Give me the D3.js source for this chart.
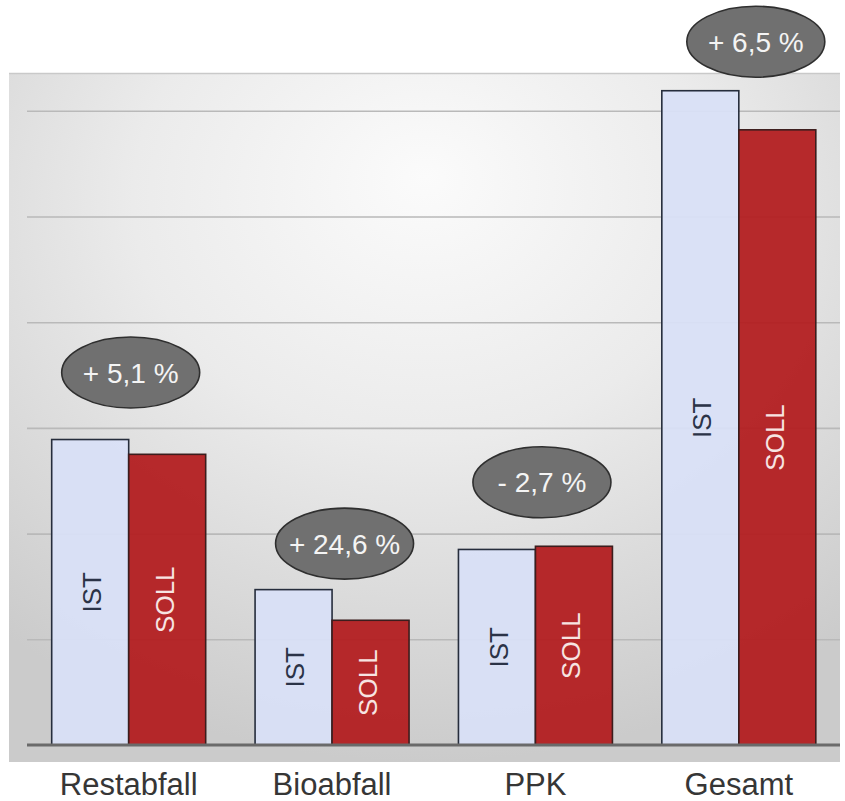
<!DOCTYPE html>
<html>
<head>
<meta charset="utf-8">
<script src="https://cdn.jsdelivr.net/npm/d3@7"></script>
<style>
  html, body { margin: 0; padding: 0; background: #ffffff; }
  svg { display: block; }
  text { font-family: Arial, "Liberation Sans", sans-serif; }
</style>
</head>
<body>
<svg id="chart" width="845" height="801"></svg>
<script>
// ---- data ----
const categories = ["Restabfall", "Bioabfall", "PPK", "Gesamt"];
const seriesNames = ["IST", "SOLL"];
const istValues = [2.89, 1.47, 1.85, 6.19];
const sollValues = [2.75, 1.18, 1.88, 5.82];
const changeLabels = ["+ 5,1 %", "+ 24,6 %", "- 2,7 %", "+ 6,5 %"];
const gridTicks = [1, 2, 3, 4, 5, 6];

// ---- layout ----
const W = 845, H = 801;
const panel = { x0: 9, x1: 840, y0: 73, y1: 762 };
const plot = { left: 27, right: 840.5, top: 110.8, bottom: 745 };

const svg = d3.select("#chart");
const defs = svg.append("defs");
const grad = defs.append("radialGradient")
  .attr("id", "bg").attr("cx", "50%").attr("cy", "22%").attr("r", "78%")
  .attr("fx", "50%").attr("fy", "15%");
grad.append("stop").attr("offset", "0%").attr("stop-color", "#fbfbfb");
grad.append("stop").attr("offset", "45%").attr("stop-color", "#ebebeb");
grad.append("stop").attr("offset", "100%").attr("stop-color", "#cbcbcb");

svg.append("rect")
  .attr("x", panel.x0).attr("y", panel.y0)
  .attr("width", panel.x1 - panel.x0).attr("height", panel.y1 - panel.y0)
  .attr("fill", "url(#bg)");
svg.append("line")
  .attr("x1", panel.x0).attr("x2", panel.x1)
  .attr("y1", panel.y0 + 0.5).attr("y2", panel.y0 + 0.5)
  .attr("stroke", "#c9c9c9").attr("stroke-width", 1.5);

// scales
const x = d3.scaleBand().domain(categories).range([plot.left, plot.right]).padding(0);
const x1 = d3.scaleBand().domain(seriesNames).range([0, x.bandwidth()])
  .paddingInner(0).paddingOuter(0.3208);
const y = d3.scaleLinear().domain([0, 6]).range([plot.bottom, plot.top]);

// gridlines via axis
const grid = svg.append("g")
  .attr("transform", `translate(${plot.left},0)`)
  .call(d3.axisLeft(y).tickValues(gridTicks)
    .tickSize(-(panel.x1 - plot.left)).tickFormat(""));
grid.select(".domain").remove();
grid.selectAll(".tick line").attr("stroke", "#b9b9b9").attr("stroke-width", 1.6);

// bars
const rows = categories.map((c, i) => ({
  cat: c,
  vals: [
    { s: "IST", v: istValues[i] },
    { s: "SOLL", v: sollValues[i] }
  ],
  label: changeLabels[i],
  i
}));

const fills = { IST: "#d9e0f6", SOLL: "#b31d1f" };
const strokes = { IST: "#262d3c", SOLL: "#3c1d1d" };
const txtFill = { IST: "#2b3347", SOLL: "#f7e4e2" };
const txtShift = { IST: 1.5, SOLL: -3 };

const groups = svg.append("g").selectAll("g.grp")
  .data(rows).join("g")
  .attr("class", "grp")
  .attr("transform", d => `translate(${x(d.cat)},0)`);

groups.selectAll("rect")
  .data(d => d.vals).join("rect")
  .attr("x", d => x1(d.s))
  .attr("y", d => y(d.v))
  .attr("width", x1.bandwidth())
  .attr("height", d => y(0) - y(d.v))
  .attr("fill", d => fills[d.s])
  .attr("fill-opacity", 0.94)
  .attr("stroke", d => strokes[d.s])
  .attr("stroke-width", 1.6);

// rotated series labels inside bars
groups.selectAll("text.ser")
  .data(d => d.vals).join("text")
  .attr("class", "ser")
  .attr("transform", d => {
    const cx = x1(d.s) + x1.bandwidth() / 2 + txtShift[d.s];
    const cy = (y(d.v) + y(0)) / 2;
    return `translate(${cx},${cy}) rotate(-90)`;
  })
  .attr("text-anchor", "middle")
  .attr("dy", "0.36em")
  .attr("font-size", 26)
  .attr("fill", d => txtFill[d.s])
  .text(d => d.s);

// baseline
svg.append("line")
  .attr("x1", plot.left).attr("x2", panel.x1)
  .attr("y1", y(0)).attr("y2", y(0))
  .attr("stroke", "#6a6a6a").attr("stroke-width", 3);

// category labels
svg.append("g").selectAll("text")
  .data(categories).join("text")
  .attr("x", d => x(d) + x.bandwidth() / 2)
  .attr("y", 795)
  .attr("text-anchor", "middle")
  .attr("font-size", 31)
  .attr("fill", "#363636")
  .text(d => d);

// change badges (ellipses), placed above tallest bar of each group
const badgeNudge = [
  { dx: 2, dy: -67 },
  { dx: 12.5, dy: -46 },
  { dx: 6.5, dy: -64 },
  { dx: 17, dy: -49 }
];
const badges = svg.append("g").selectAll("g")
  .data(rows).join("g")
  .attr("transform", d => {
    const top = y(d3.max(d.vals, v => v.v));
    const cx = x(d.cat) + x.bandwidth() / 2 + badgeNudge[d.i].dx;
    return `translate(${cx},${top + badgeNudge[d.i].dy})`;
  });
badges.append("ellipse")
  .attr("rx", 69).attr("ry", 35.5)
  .attr("fill", "#707070")
  .attr("stroke", "#2f2f2f").attr("stroke-width", 1.6);
badges.append("text")
  .attr("text-anchor", "middle")
  .attr("dy", "0.36em")
  .attr("font-size", 28)
  .attr("fill", "#f4f4f4")
  .text(d => d.label);
</script>
</body>
</html>
